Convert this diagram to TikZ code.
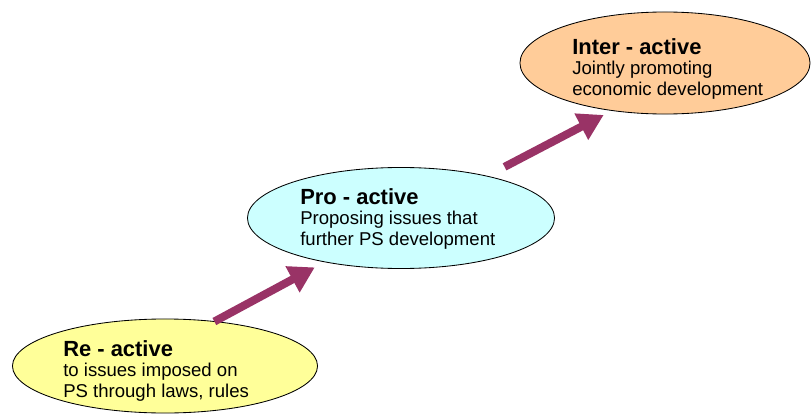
\documentclass[tikz,border=0pt]{standalone}
\usepackage{fontspec}
\setmainfont{Liberation Sans}
\usetikzlibrary{calc,positioning,shapes.geometric,arrows.meta}
\definecolor{reyellow}{RGB}{255,255,153}
\definecolor{procyan}{RGB}{204,255,255}
\definecolor{interorange}{RGB}{255,204,153}
\definecolor{riseplum}{RGB}{153,51,102}

\begin{document}
\begin{tikzpicture}[x=0.025cm, y=-0.025cm,
    stage/.style={ellipse, draw=black, line width=0.6pt, inner sep=0pt, outer sep=0pt},
    stagetext/.style={anchor=north west, align=left, inner sep=0pt, font=\fontsize{13.2}{14.6}\selectfont},
    rise/.style={riseplum, line width=5.7pt, -{Triangle[length=18pt,width=20pt]}}]
    \useasboundingbox (0,0) rectangle (812,415);
    % Draw the three ellipses
    \node[stage, fill=reyellow, minimum width=7.625cm, minimum height=2.35cm] (re) at (165,366) {};
    \node[stage, fill=procyan, minimum width=7.675cm, minimum height=2.525cm] (pro) at (401,218) {};
    \node[stage, fill=interorange, minimum width=7.25cm, minimum height=2.55cm] (inter) at (665,63) {};
    % Draw the labels inside
    \node[stagetext] (retext) at (63,340) {{\fontsize{15.6}{18}\selectfont\bfseries Re - active}\\to issues imposed on\\PS through laws, rules};
    \node[stagetext] (protext) at (300,188) {{\fontsize{15.6}{18}\selectfont\bfseries Pro - active}\\Proposing issues that\\further PS development};
    \node[stagetext] (intertext) at (572,38) {{\fontsize{15.6}{18}\selectfont\bfseries Inter - active}\\Jointly promoting\\economic development};
    % Draw the arrows between them
    \draw[rise, shorten >=0.29cm] (re.42.6) -- (pro.210.8);
    \draw[rise, shorten <=0.5cm, shorten >=0.24cm] (pro.26.6) -- (inter.222);
\end{tikzpicture}
\end{document}
